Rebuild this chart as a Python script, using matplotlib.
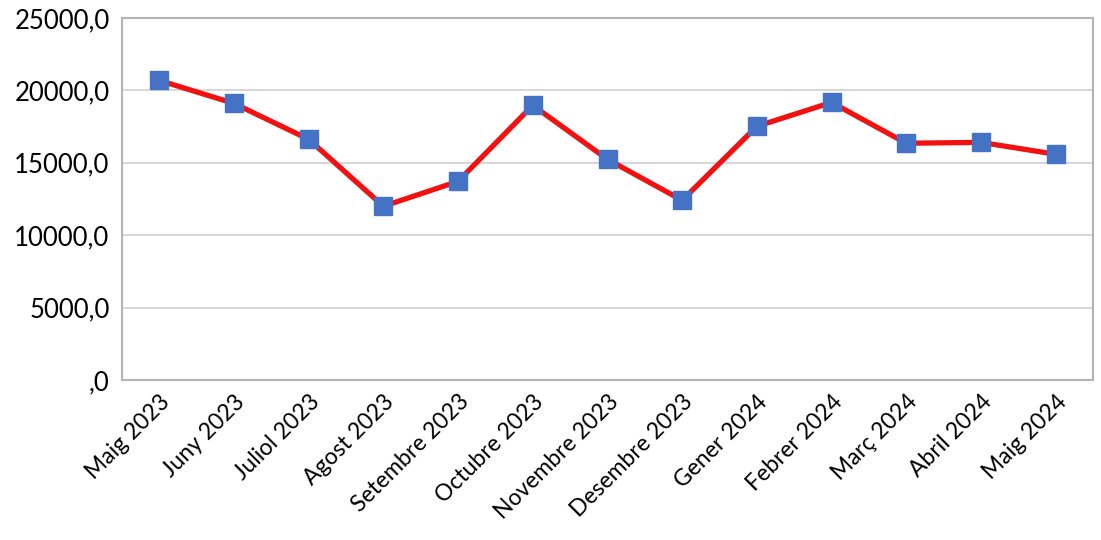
import matplotlib.pyplot as plt
from matplotlib.ticker import FuncFormatter, MultipleLocator

months = ["Maig 2023", "Juny 2023", "Juliol 2023", "Agost 2023", "Setembre 2023",
          "Octubre 2023", "Novembre 2023", "Desembre 2023", "Gener 2024",
          "Febrer 2024", "Març 2024", "Abril 2024", "Maig 2024"]
values = [20690, 19100, 16620, 12000, 13720, 18970, 15240, 12410, 17520,
          19170, 16350, 16410, 15590]

plt.rcParams['font.family'] = ['Lato', 'DejaVu Sans']

fig = plt.figure(figsize=(11.01, 5.40), dpi=100)
ax = fig.add_axes([122 / 1101, 1 - 380 / 540, (1093 - 122) / 1101, (380 - 18) / 540])

x = range(len(months))
ax.plot(x, values, color='#F21111', linewidth=3.8, marker='s', markersize=13,
        markerfacecolor='#4472C4', markeredgecolor='#4472C4', zorder=3)

ax.set_xlim(-0.5, len(months) - 0.5)
ax.set_ylim(0, 25000)
ax.yaxis.set_major_locator(MultipleLocator(5000))


def fmt(v, pos):
    s = f"{v:.1f}".replace('.', ',')
    return ",0" if v == 0 else s


ax.yaxis.set_major_formatter(FuncFormatter(fmt))
ax.set_xticks(list(x))
ax.set_xticklabels(months, rotation=45, ha='right', rotation_mode='anchor')
ax.tick_params(axis='both', length=0, colors='black')
ax.tick_params(axis='y', labelsize=18.5, pad=9)
ax.tick_params(axis='x', labelsize=16.5, pad=8)

ax.grid(axis='y', color='#D0D0D0', linewidth=1.2)
ax.set_axisbelow(True)
for side in ['left', 'bottom', 'right', 'top']:
    ax.spines[side].set_color('#B4B4B4')
    ax.spines[side].set_linewidth(1.5)

fig.savefig('out.png', dpi=100)
